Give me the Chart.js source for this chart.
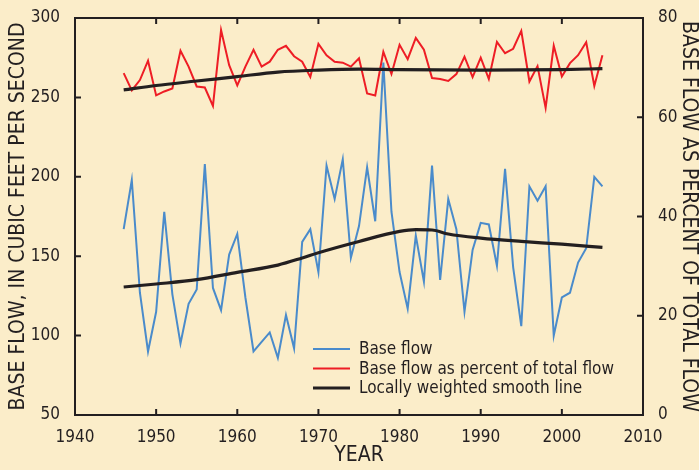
<!DOCTYPE html>
<html>
<head>
<meta charset="utf-8">
<script src="https://cdn.jsdelivr.net/npm/chart.js@4"></script>
<style>
  html, body { margin: 0; padding: 0; background: #FBEDC9; }
  #wrap { width: 699px; height: 470px; position: relative; }
</style>
</head>
<body>
<div id="wrap"><canvas id="mychart"></canvas></div>
<script>
// values
var years = [1946, 1947, 1948, 1949, 1950, 1951, 1952, 1953, 1954, 1955,
             1956, 1957, 1958, 1959, 1960, 1961, 1962, 1963, 1964, 1965,
             1966, 1967, 1968, 1969, 1970, 1971, 1972, 1973, 1974, 1975,
             1976, 1977, 1978, 1979, 1980, 1981, 1982, 1983, 1984, 1985,
             1986, 1987, 1988, 1989, 1990, 1991, 1992, 1993, 1994, 1995,
             1996, 1997, 1998, 1999, 2000, 2001, 2002, 2003, 2004, 2005];

var baseFlow = [167, 198, 127, 90, 115, 178, 126, 95, 120, 129,
                208, 130, 116, 151, 164, 124, 90, 96, 102, 86,
                113, 92, 159, 167, 140, 207, 186, 211, 149, 169,
                206, 172, 272, 178, 140, 117, 163, 134, 207, 135,
                186, 167, 115, 154, 171, 170, 144, 205, 143, 106,
                194, 185, 194, 100, 124, 127, 146, 155, 200, 194];

var pctTotal = [68.9, 65.4, 67.5, 71.4, 64.4, 65.2, 65.8, 73.4, 70.2, 66.2,
                66.0, 62.3, 77.6, 70.5, 66.4, 70.2, 73.6, 70.2, 71.2, 73.6,
                74.4, 72.3, 71.2, 68.1, 74.8, 72.5, 71.2, 71.0, 70.2, 71.9,
                64.8, 64.4, 73.2, 68.7, 74.6, 71.7, 76.0, 73.6, 67.9, 67.7,
                67.3, 68.7, 72.2, 68.1, 72.0, 67.7, 75.2, 72.9, 73.8, 77.4,
                67.2, 70.3, 61.9, 74.4, 68.2, 70.9, 72.5, 75.1, 66.3, 72.5];

// smooth (lowess) lines, read at a few years
var smoothFlowYears = [1946, 1950, 1955, 1960, 1965, 1968, 1970, 1975, 1980, 1982, 1984, 1986, 1990, 1995, 2000, 2005];
var smoothFlow      = [130.6, 132.5, 135.2, 139.8, 144.4, 148.9, 152.2, 159.3, 165.6, 166.7, 166.5, 164.0, 161.4, 159.3, 157.6, 155.5];

var smoothPctYears = [1946, 1950, 1955, 1960, 1965, 1970, 1975, 1980, 1990, 2000, 2005];
var smoothPct      = [65.5, 66.4, 67.3, 68.2, 69.1, 69.5, 69.7, 69.6, 69.5, 69.6, 69.8];

var legendLabels = ["Base flow", "Base flow as percent of total flow", "Locally weighted smooth line"];
var legendColors = ["#4A8BCB", "#EE1D25", "#231F20"];

function pairs(xs, ys) {
  var out = [];
  for (var i = 0; i < xs.length; i++) out.push({x: xs[i], y: ys[i]});
  return out;
}

var FONT = "'Liberation Sans Narrow', 'Arial Narrow', 'DejaVu Sans Condensed', sans-serif";
var INK = "#231F20";

// frame, inward tick marks and the in-chart legend
var framePlugin = {
  id: 'frame',
  afterDraw: function(chart) {
    var ctx = chart.ctx, a = chart.chartArea;
    var sx = chart.scales.x, sy = chart.scales.y, sy1 = chart.scales.y1;
    ctx.save();
    ctx.strokeStyle = INK;
    ctx.lineWidth = 2;
    ctx.strokeRect(a.left, a.top, a.right - a.left, a.bottom - a.top);
    var t = 6;
    ctx.beginPath();
    sx.ticks.forEach(function(tk) {
      var px = sx.getPixelForValue(tk.value);
      ctx.moveTo(px, a.bottom); ctx.lineTo(px, a.bottom - t);
      ctx.moveTo(px, a.top); ctx.lineTo(px, a.top + t);
    });
    sy.ticks.forEach(function(tk) {
      var py = sy.getPixelForValue(tk.value);
      ctx.moveTo(a.left, py); ctx.lineTo(a.left + t, py);
    });
    sy1.ticks.forEach(function(tk) {
      var py = sy1.getPixelForValue(tk.value);
      ctx.moveTo(a.right, py); ctx.lineTo(a.right - t, py);
    });
    ctx.stroke();

    // legend
    var lx = 313, ly = 349, row = 19.5;
    ctx.font = "17px " + FONT;
    ctx.textBaseline = "middle";
    ctx.fillStyle = INK;
    for (var i = 0; i < legendLabels.length; i++) {
      var y = ly + i * row;
      ctx.strokeStyle = legendColors[i];
      ctx.lineWidth = i == 2 ? 3 : 2;
      ctx.beginPath();
      ctx.moveTo(lx, y); ctx.lineTo(lx + 37, y);
      ctx.stroke();
      ctx.fillText(legendLabels[i], lx + 46, y + 1);
    }
    ctx.restore();
  }
};

var ctx = document.getElementById("mychart");
var myChart = new Chart(ctx, {
  type: 'line',
  data: {
    datasets: [
      {
        label: legendLabels[0],
        data: pairs(years, baseFlow),
        borderColor: legendColors[0],
        borderWidth: 2,
        pointRadius: 0,
        tension: 0,
        yAxisID: 'y',
        order: 2
      },
      {
        label: legendLabels[1],
        data: pairs(years, pctTotal),
        borderColor: legendColors[1],
        borderWidth: 2,
        pointRadius: 0,
        tension: 0,
        yAxisID: 'y1',
        order: 2
      },
      {
        label: legendLabels[2],
        data: pairs(smoothFlowYears, smoothFlow),
        borderColor: legendColors[2],
        borderWidth: 3.2,
        pointRadius: 0,
        cubicInterpolationMode: 'monotone',
        yAxisID: 'y',
        order: 0
      },
      {
        label: legendLabels[2] + " (percent)",
        data: pairs(smoothPctYears, smoothPct),
        borderColor: legendColors[2],
        borderWidth: 3.2,
        pointRadius: 0,
        cubicInterpolationMode: 'monotone',
        yAxisID: 'y1',
        order: 0
      }
    ]
  },
  options: {
    responsive: true,
    maintainAspectRatio: false,
    animation: false,
    layout: { padding: { top: 18 } },
    plugins: {
      legend: { display: false },
      tooltip: { enabled: false }
    },
    scales: {
      x: {
        type: 'linear',
        min: 1940, max: 2010,
        ticks: { stepSize: 10, color: INK, font: { family: FONT, size: 17 }, padding: 4,
                 callback: function(v) { return String(v); } },
        grid: { display: false },
        border: { display: false },
        title: { display: true, text: 'YEAR', color: INK, font: { family: FONT, size: 21 }, padding: { top: 0, bottom: 2 } },
        afterFit: function(s) { s.height = 55; }
      },
      y: {
        position: 'left',
        min: 50, max: 300,
        ticks: { stepSize: 50, color: INK, font: { family: FONT, size: 17 }, padding: 7 },
        grid: { display: false },
        border: { display: false },
        title: { display: true, text: 'BASE FLOW, IN CUBIC FEET PER SECOND', color: INK,
                 font: { family: FONT, size: 21 }, padding: { top: 6, bottom: 0 } },
        afterFit: function(s) { s.width = 75; }
      },
      y1: {
        position: 'right',
        min: 0, max: 80,
        ticks: { stepSize: 20, color: INK, font: { family: FONT, size: 17 }, padding: 7 },
        grid: { display: false },
        border: { display: false },
        title: { display: true, text: 'BASE FLOW AS PERCENT OF TOTAL FLOW', color: INK,
                 font: { family: FONT, size: 21, lineHeight: 1 }, padding: { top: 0, bottom: 0 } },
        afterFit: function(s) { s.width = 56; }
      }
    }
  },
  plugins: [framePlugin]
});
</script>
</body>
</html>
